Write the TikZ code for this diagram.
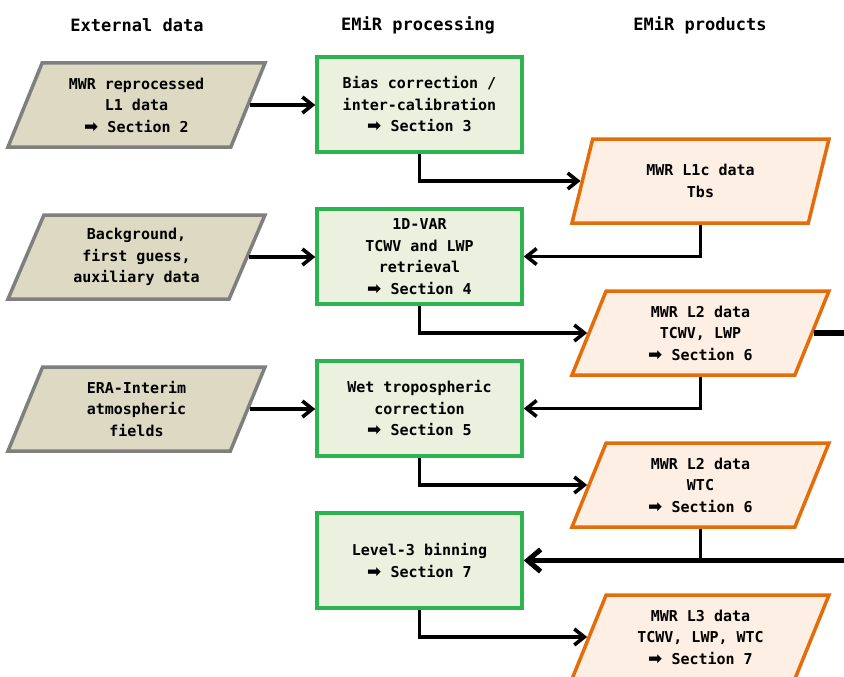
\documentclass[tikz,border=0pt]{standalone}
\usepackage{fontspec}
\setmonofont{DejaVu Sans Mono}
\newfontfamily\symfont{DejaVu Sans}
\usetikzlibrary{shapes.geometric,arrows.meta}
\definecolor{grn}{HTML}{2DB34F}
\definecolor{grnfill}{HTML}{EBF1DE}
\definecolor{gry}{HTML}{7F7F7F}
\definecolor{gryfill}{HTML}{DDD9C3}
\definecolor{org}{HTML}{E46C0A}
\definecolor{orgfill}{HTML}{FDEFE3}
\newcommand{\arw}{{\symfont\bfseries\fontsize{17}{21.5}\selectfont ➡}}
\tikzset{
  boxfont/.style={font=\ttfamily\bfseries\fontsize{15}{21.5}\selectfont},
  hdr/.style={font=\ttfamily\bfseries\fontsize{17}{20}\selectfont},
  proc/.style={boxfont, draw=grn, fill=grnfill, line width=3.5pt, minimum width=205pt, minimum height=95pt, align=center, inner sep=0pt},
  ext/.style={boxfont, trapezium, trapezium left angle=58, trapezium right angle=122, trapezium stretches body, draw=gry, fill=gryfill, line width=3.5pt, minimum width=257pt, minimum height=84pt, align=center, inner sep=0pt},
  prod/.style={ext, draw=org, fill=orgfill},
  conn/.style={line width=3.2pt, -{Straight Barb[length=10pt,width=16pt,line width=3.6pt]}},
  plain/.style={line width=3.2pt},
  bus/.style={line width=5.5pt},
  busarr/.style={line width=5.5pt, -{Straight Barb[length=13pt,width=22pt,line width=5pt]}}
}
\begin{document}
\begin{tikzpicture}[x=1pt,y=-1pt]
\useasboundingbox (0,0) rectangle (844,677);
\clip (0,0) rectangle (844,677);
\node[hdr] (h1) at (137,25) {External data};
\node[hdr] (h2) at (418,25) {EMiR processing};
\node[hdr] (h3) at (700,25) {EMiR products};

\node[ext] (e1) at (136.5,105) {MWR reprocessed\\L1 data\\\arw{} Section 2};
\node[ext] (e2) at (136.5,257) {Background,\\first guess,\\auxiliary data};
\node[ext] (e3) at (136.5,409) {ERA-Interim\\atmospheric\\fields};

\node[proc] (g1) at (419.5,104.5) {Bias correction /\\inter-calibration\\\arw{} Section 3};
\node[proc] (g2) at (419.5,256.5) {1D-VAR\\TCWV and LWP\\retrieval\\\arw{} Section 4};
\node[proc] (g3) at (419.5,408.5) {Wet tropospheric\\correction\\\arw{} Section 5};
\node[proc] (g4) at (419.5,560.5) {Level-3 binning\\\arw{} Section 7};

\node[prod] (o1) at (700.5,181) {MWR L1c data\\Tbs};
\node[prod] (o2) at (700.5,333) {MWR L2 data\\TCWV, LWP\\\arw{} Section 6};
\node[prod] (o3) at (700.5,485) {MWR L2 data\\WTC\\\arw{} Section 6};
\node[prod] (o4) at (700.5,637) {MWR L3 data\\TCWV, LWP, WTC\\\arw{} Section 7};

\draw[conn] (e1.right side) -- (e1.right side -| g1.west);
\draw[conn] (e2.right side) -- (e2.right side -| g2.west);
\draw[conn] (e3.right side) -- (e3.right side -| g3.west);

\draw[conn] (g1.south) |- (o1.left side);
\draw[conn] (g2.south) |- (o2.left side);
\draw[conn] (g3.south) |- (o3.left side);
\draw[conn] (g4.south) |- (o4.left side);

\draw[conn] (o1.south) |- (g2.east);
\draw[conn] (o2.south) |- (g3.east);

\coordinate (r2) at (870,333);
\coordinate (r4) at (870,560.5);
\draw[bus] (o2.right side) -- (r2);
\draw[busarr] (r4) -- (g4.east);
\draw[plain] (o3.south) -- (o3.south |- g4.east);
\end{tikzpicture}
\end{document}
